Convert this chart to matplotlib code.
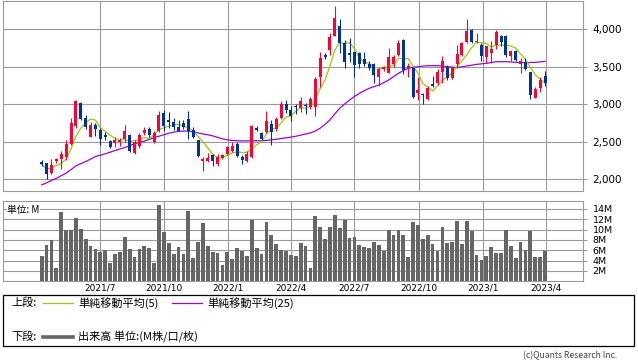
import matplotlib
matplotlib.use('Agg')
import matplotlib.pyplot as plt
import matplotlib.dates as mdates
from matplotlib.patches import Rectangle
from matplotlib.lines import Line2D
import numpy as np
import pandas as pd

plt.rcParams['font.family'] = ['DejaVu Sans', 'Noto Sans CJK JP']
JP = ['Noto Sans CJK JP', 'DejaVu Sans']

# weekly candles, one per week
weeks = pd.date_range('2021-04-09', periods=104, freq='7D')

opens = [2233, 2210, 2081, 2235, 2264, 2290, 2469, 2701, 3018, 2815,
         2564, 2720, 2657, 2590, 2509, 2476, 2490, 2530, 2590, 2351,
         2440, 2618, 2667, 2498, 2640, 2875, 2790, 2765, 2688, 2752,
         2804, 2650, 2515, 2245, 2240, 2317, 2205, 2279, 2334, 2377,
         2472, 2299, 2238, 2294, 2681, 2617, 2632, 2730, 2668, 2817,
         3004, 2922, 2978, 2942, 2978, 2956, 2964, 3356, 3653, 3720,
         3911, 4040, 3818, 3676, 3689, 3676, 3604, 3536, 3531, 3366,
         3470, 3418, 3529, 3653, 3853, 3476, 3476, 3142, 3130, 3067,
         3268, 3277, 3433, 3500, 3344, 3536, 3656, 3821, 3991, 3830,
         3790, 3625, 3678, 3790, 3911, 3902, 3643, 3701, 3531, 3558,
         3433, 3085, 3219, 3375]
highs = [2253, 2215, 2269, 2285, 2367, 2523, 2813, 3058, 3031, 2860,
         2760, 2745, 2679, 2630, 2523, 2564, 2550, 2724, 2600, 2520,
         2610, 2690, 2690, 2635, 2910, 2920, 2900, 2810, 2785, 2790,
         2910, 2695, 2522, 2292, 2350, 2334, 2328, 2338, 2446, 2488,
         2499, 2321, 2380, 2722, 2710, 2628, 2909, 2786, 2824, 3040,
         3049, 2970, 3000, 3098, 3009, 3098, 3356, 3689, 3684, 3942,
         4307, 4133, 3853, 3876, 3698, 3698, 3689, 3567, 3545, 3478,
         3510, 3742, 3653, 3853, 3862, 3551, 3498, 3364, 3143, 3241,
         3375, 3464, 3643, 3522, 3500, 3790, 3826, 4138, 4000, 3946,
         3812, 3768, 3835, 3982, 3924, 3924, 3701, 3714, 3612, 3612,
         3433, 3223, 3357, 3446]
lows = [2170, 2005, 2072, 2215, 2130, 2255, 2451, 2679, 2790, 2665,
        2555, 2575, 2456, 2525, 2420, 2431, 2440, 2497, 2365, 2340,
        2420, 2590, 2563, 2483, 2625, 2640, 2685, 2655, 2640, 2670,
        2540, 2550, 2298, 2110, 2230, 2175, 2175, 2267, 2321, 2365,
        2288, 2199, 2225, 2277, 2644, 2517, 2620, 2452, 2643, 2804,
        2878, 2770, 2866, 2898, 2862, 2938, 2840, 3231, 3600, 3653,
        3907, 3684, 3484, 3564, 3356, 3476, 3511, 3460, 3277, 3241,
        3440, 3409, 3500, 3640, 3400, 3364, 3076, 3053, 2996, 3054,
        3223, 3254, 3286, 3321, 3330, 3478, 3643, 3812, 3812, 3812,
        3567, 3545, 3545, 3732, 3768, 3625, 3567, 3567, 3411, 3455,
        3063, 3085, 3165, 3241]
closes = [2197, 2063, 2193, 2262, 2335, 2469, 2746, 3036, 2804, 2690,
          2725, 2671, 2532, 2554, 2433, 2520, 2520, 2640, 2380, 2498,
          2587, 2654, 2587, 2618, 2850, 2705, 2760, 2695, 2645, 2690,
          2640, 2562, 2308, 2272, 2283, 2241, 2299, 2323, 2432, 2445,
          2308, 2259, 2334, 2711, 2660, 2537, 2773, 2628, 2804, 3004,
          2922, 2837, 2955, 3040, 2973, 3067, 3333, 3618, 3622, 3898,
          4142, 3818, 3564, 3653, 3520, 3529, 3529, 3478, 3388, 3469,
          3490, 3631, 3631, 3818, 3453, 3507, 3098, 3187, 3125, 3219,
          3241, 3433, 3567, 3344, 3487, 3665, 3813, 3978, 3821, 3838,
          3643, 3768, 3732, 3960, 3821, 3656, 3701, 3589, 3567, 3469,
          3121, 3196, 3321, 3286]
# 25-week average as drawn (includes weeks before the window)
ma25 = [1922, 1950, 1980, 2010, 2045, 2078, 2125, 2176, 2205, 2233,
        2265, 2300, 2318, 2336, 2358, 2380, 2400, 2420, 2445, 2469,
        2487, 2504, 2528, 2553, 2570, 2590, 2610, 2625, 2635, 2640,
        2638, 2630, 2615, 2600, 2590, 2575, 2555, 2535, 2522, 2515,
        2510, 2508, 2508, 2510, 2510, 2510, 2515, 2522, 2530, 2540,
        2550, 2558, 2570, 2585, 2600, 2615, 2640, 2678, 2730, 2789,
        2870, 2944, 3000, 3053, 3100, 3142, 3178, 3209, 3232, 3253,
        3285, 3320, 3365, 3409, 3445, 3476, 3490, 3498, 3505, 3511,
        3511, 3511, 3505, 3498, 3492, 3487, 3497, 3507, 3518, 3529,
        3535, 3542, 3553, 3564, 3564, 3564, 3560, 3556, 3553, 3551,
        3553, 3556, 3562, 3569]
volume = [4.9, 7.1, 7.9, 2.5, 13.5, 9.9, 9.9, 12.3, 10.1, 8.1,
          6.9, 6.3, 5.7, 6.1, 3.5, 5.3, 5.7, 8.5, 6.3, 4.7,
          6.3, 6.9, 6.5, 3.5, 14.7, 9.5, 7.5, 5.3, 6.7, 5.3,
          13.7, 4.5, 7.7, 11.3, 6.9, 5.7, 5.5, 3.1, 5.7, 4.3,
          6.5, 5.9, 4.9, 11.9, 6.5, 5.3, 11.5, 8.9, 7.3, 6.1,
          5.9, 5.1, 4.9, 7.5, 6.9, 2.5, 12.7, 10.5, 8.1, 10.5,
          12.9, 10.3, 11.9, 8.3, 8.5, 7.1, 6.7, 6.5, 7.7, 7.1,
          5.9, 9.9, 8.9, 9.9, 8.9, 4.7, 11.5, 10.9, 8.1, 8.9,
          7.3, 5.9, 10.5, 7.5, 7.7, 11.7, 7.3, 11.7, 9.7, 5.1,
          4.1, 4.9, 6.7, 5.5, 5.5, 9.9, 6.9, 4.5, 7.7, 6.1,
          9.7, 4.7, 4.7, 5.9]

month_ticks = ['2021-07-01', '2021-10-01', '2022-01-01', '2022-04-01',
               '2022-07-01', '2022-10-01', '2023-01-01', '2023-04-01']
month_labels = ['2021/7', '2021/10', '2022/1', '2022/4',
                '2022/7', '2022/10', '2023/1', '2023/4']
price_ticks = [2000, 2500, 3000, 3500, 4000]
vol_ticks = [2, 4, 6, 8, 10, 12, 14]

UP, DOWN = '#ff0033', '#003399'
GRID = '#9a9a9a'

W, H = 638, 362
fig = plt.figure(figsize=(W / 100, H / 100), dpi=100)


def box(l, t, r, b):
    return [l / W, 1 - b / H, (r - l) / W, (b - t) / H]


ax = fig.add_axes(box(3.3, 0.5, 582.7, 190.5))
axv = fig.add_axes(box(3.3, 200.7, 582.7, 281.3), sharex=ax)

x = mdates.date2num(weeks)
o = np.array(opens)
c = np.array(closes)
colors = [UP if cc >= oo else DOWN for oo, cc in zip(o, c)]

ma5 = pd.Series(closes).rolling(5, min_periods=1).mean()
ax.plot(x, ma25, color='#9900ff', lw=0.9, zorder=2)
ax.plot(x, ma5, color='#99cc00', lw=0.9, zorder=2)

ax.vlines(x, lows, highs, colors=colors, lw=0.8, zorder=3)
body = np.maximum(np.abs(c - o), 12)
ax.bar(x, body, bottom=np.minimum(o, c), width=4.3, color=colors,
       linewidth=0, zorder=3)

axv.bar(x, volume, width=5.4, color='#666666', linewidth=0, zorder=3)

tick_x = mdates.date2num(pd.to_datetime(month_ticks))
for a in (ax, axv):
    a.set_xticks(tick_x)
    a.grid(True, color=GRID, lw=0.8, zorder=0)
    a.set_axisbelow(True)
    for s in a.spines.values():
        s.set_color(GRID)
        s.set_linewidth(0.8)
    a.yaxis.tick_right()
    a.tick_params(axis='y', length=3, color=GRID, width=0.8, pad=4)

ax.set_xlim(mdates.date2num(pd.Timestamp('2021-02-13')),
            mdates.date2num(pd.Timestamp('2023-05-24')))
ax.set_ylim(1847, 4380)
ax.set_yticks(price_ticks)
ax.set_yticklabels([f'{v:,}' for v in price_ticks], fontsize=7.5)
ax.tick_params(axis='x', length=0, labelbottom=False)

axv.set_ylim(0, 15.6)
axv.set_yticks(vol_ticks)
axv.set_yticklabels([f'{v}M' for v in vol_ticks], fontsize=6.8)
axv.set_xticklabels(month_labels, fontsize=6.5)
axv.tick_params(axis='x', length=0, pad=1.5)

fig.text(7.3 / W, 1 - 210 / H, '単位: M', fontsize=7, family=JP,
         va='center', ha='left',
         bbox=dict(facecolor='white', edgecolor='none', pad=0.5))

# legend block
fig.add_artist(Rectangle((3.3 / W, 1 - 346 / H), (634 - 3.3) / W,
                         (346 - 295.3) / H, transform=fig.transFigure,
                         fill=False, ec='black', lw=0.9))
y1, y2 = 1 - 302.7 / H, 1 - 336.7 / H
fig.text(11.7 / W, y1, '上段:', fontsize=8, family=JP, va='center')
fig.add_artist(Line2D([43 / W, 73 / W], [y1, y1], color='#99cc00', lw=0.9))
fig.text(78 / W, y1, '単純移動平均(5)', fontsize=8, family=JP, va='center')
fig.add_artist(Line2D([172 / W, 202 / W], [y1, y1], color='#9900ff', lw=0.9))
fig.text(207 / W, y1, '単純移動平均(25)', fontsize=8, family=JP, va='center')
fig.text(11.7 / W, y2, '下段:', fontsize=8, family=JP, va='center')
fig.add_artist(Line2D([43 / W, 73 / W], [y2, y2], color='#666666', lw=2.6))
fig.text(78 / W, y2, '出来高 単位:(M株/口/枚)', fontsize=8, family=JP,
         va='center')

fig.text(617 / W, 1 - 356 / H, '(c)Quants Research Inc.', fontsize=6.2,
         family=JP, color='#444444', ha='right', va='center')

fig.savefig('out.png', dpi=100)
